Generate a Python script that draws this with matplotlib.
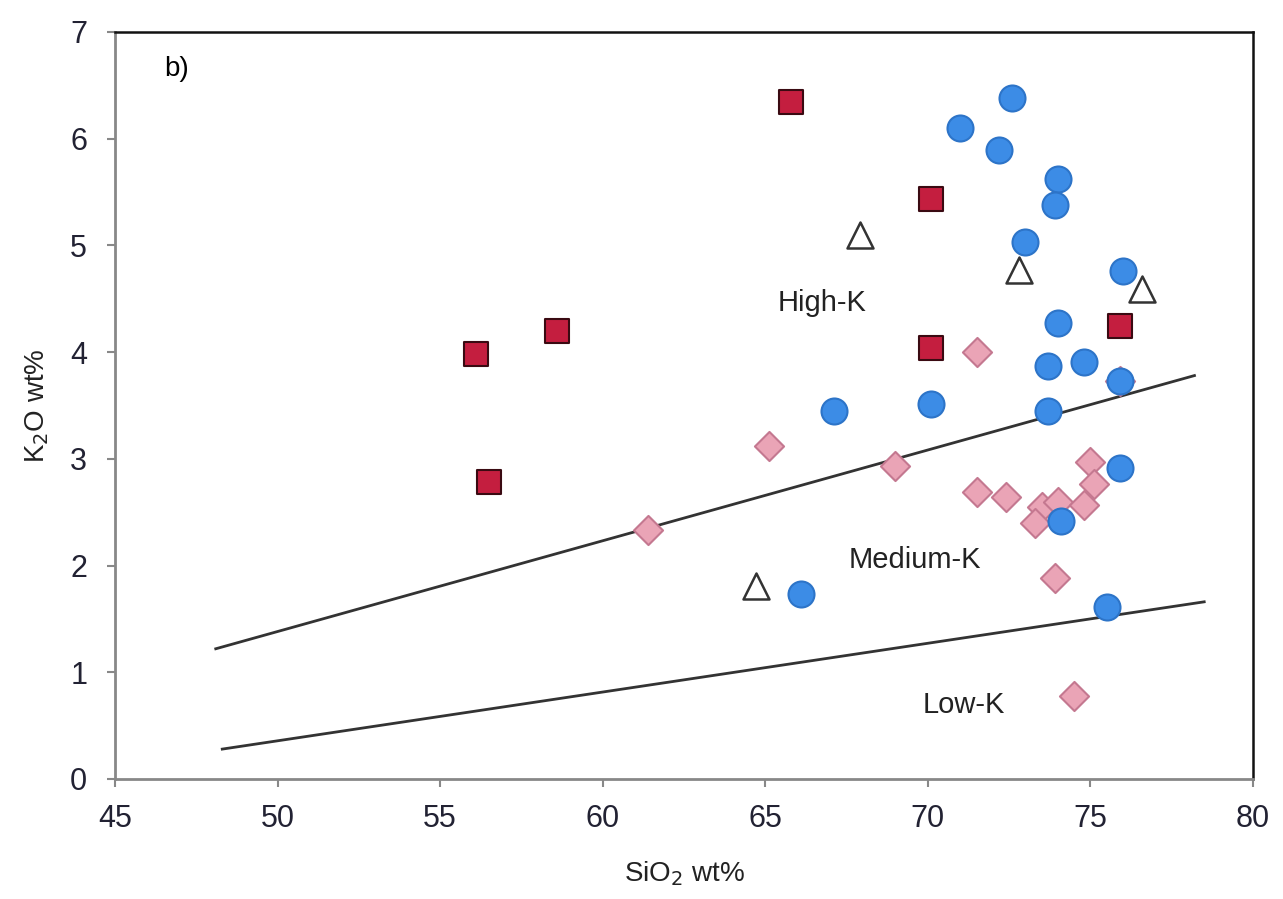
import matplotlib.pyplot as plt

plt.rcParams['font.family'] = ['Liberation Sans', 'DejaVu Sans']

# series (SiO2, K2O)
sq_x = [65.8, 70.1, 70.1, 75.9, 56.1, 58.6, 56.5]
sq_y = [6.34, 5.43, 4.04, 4.24, 3.98, 4.20, 2.78]

dia_x = [71.5, 65.1, 69.0, 61.4, 71.5, 72.4, 73.5, 73.3, 74.0, 75.0, 75.1, 74.8, 73.9, 74.5, 75.9]
dia_y = [4.00, 3.12, 2.93, 2.33, 2.69, 2.64, 2.55, 2.40, 2.60, 2.97, 2.76, 2.57, 1.88, 0.78, 3.73]

circ_x = [72.6, 71.0, 72.2, 74.0, 73.9, 73.0, 76.0, 74.0, 73.7, 74.8, 75.9, 73.7, 67.1,
          70.1, 75.9, 74.1, 66.1, 75.5]
circ_y = [6.38, 6.10, 5.89, 5.62, 5.38, 5.03, 4.76, 4.27, 3.87, 3.91, 3.73, 3.45, 3.45,
          3.51, 2.91, 2.42, 1.73, 1.61]

tri_x = [67.9, 72.8, 76.6, 64.7]
tri_y = [5.10, 4.77, 4.59, 1.81]

# field boundaries
upper_x = [48.1, 78.2]
upper_y = [1.22, 3.78]
lower_x = [48.3, 78.5]
lower_y = [0.28, 1.66]

fig = plt.figure(figsize=(12.83, 8.99), dpi=100)
ax = fig.add_axes([0.0896, 0.1335, 0.887, 0.831])

ax.plot(upper_x, upper_y, color='#333333', lw=2, zorder=2)
ax.plot(lower_x, lower_y, color='#333333', lw=2, zorder=2)

ax.scatter(sq_x, sq_y, marker='s', s=300, c='#c41e3f', edgecolors='#3a0a12', linewidths=1.5, zorder=3)
ax.scatter(dia_x, dia_y, marker='D', s=220, c='#eaa4b6', edgecolors='#c47890', linewidths=1.5, zorder=3)
ax.scatter(circ_x, circ_y, marker='o', s=350, c='#3c8ce6', edgecolors='#2d74c8', linewidths=1.5, zorder=4)
ax.scatter(tri_x, tri_y, marker='^', s=350, c='white', edgecolors='#333333', linewidths=1.8, zorder=4)

ax.text(46.5, 6.65, 'b)', fontsize=20, va='center', ha='left')
ax.text(66.75, 4.46, 'High-K', fontsize=21, va='center', ha='center', color='#222222')
ax.text(69.6, 2.05, 'Medium-K', fontsize=21, va='center', ha='center', color='#222222')
ax.text(71.1, 0.69, 'Low-K', fontsize=21, va='center', ha='center', color='#222222')

ax.set_xlim(45, 80)
ax.set_ylim(0, 7)
ax.set_xticks(range(45, 81, 5))
ax.set_yticks(range(0, 8))
ax.tick_params(labelsize=22, direction='out', length=6, width=1.5, color='#888888', labelcolor='#222233')
ax.tick_params(axis='x', pad=12)
ax.tick_params(axis='y', pad=14)

ax.spines['left'].set_color('#888888')
ax.spines['bottom'].set_color('#888888')
ax.spines['left'].set_linewidth(2)
ax.spines['bottom'].set_linewidth(2)
ax.spines['top'].set_color('#111111')
ax.spines['right'].set_color('#111111')
ax.spines['top'].set_linewidth(1.8)
ax.spines['right'].set_linewidth(1.8)

ax.set_xlabel('SiO$_2$ wt%', fontsize=20, color='#222222', labelpad=18)
ax.set_ylabel('K$_2$O wt%', fontsize=20, color='#222222', labelpad=14)

plt.savefig('out.png', dpi=100)
